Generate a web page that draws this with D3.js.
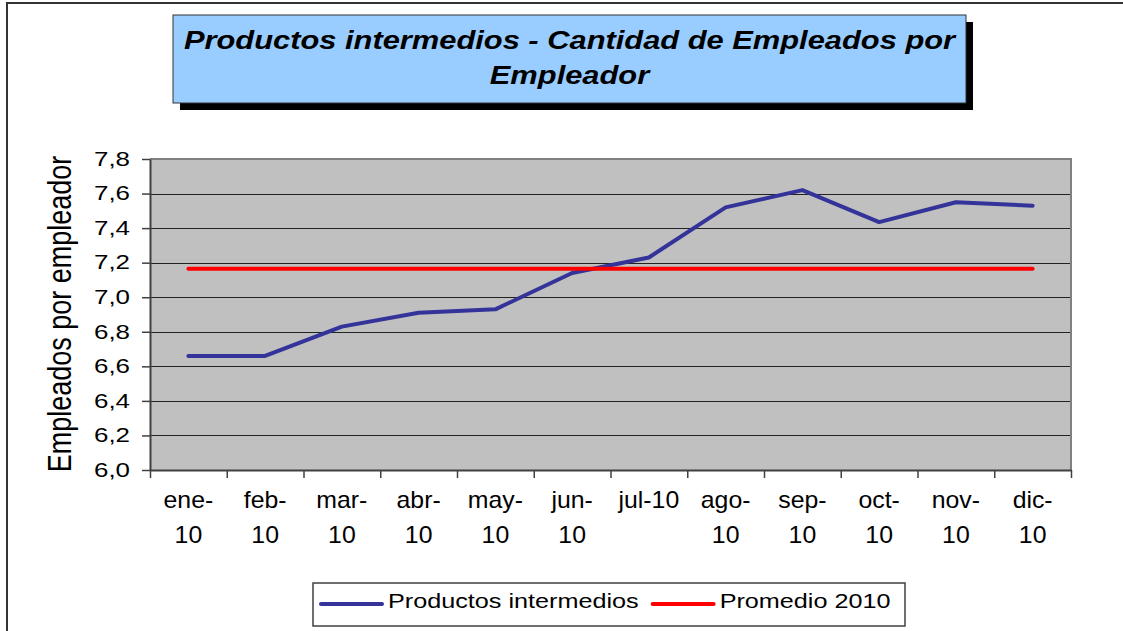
<!DOCTYPE html>
<html>
<head>
<meta charset="utf-8">
<script src="https://cdn.jsdelivr.net/npm/d3@7"></script>
<style>
  body { margin: 0; background: #fff; }
  svg { display: block; font-family: "Liberation Sans", Arial, sans-serif; }
</style>
</head>
<body>
<div id="chart"></div>
<script>
// data
var months = ["ene-10", "feb-10", "mar-10", "abr-10", "may-10", "jun-10",
              "jul-10", "ago-10", "sep-10", "oct-10", "nov-10", "dic-10"];
var xLabels = [["ene-", "10"], ["feb-", "10"], ["mar-", "10"], ["abr-", "10"],
               ["may-", "10"], ["jun-", "10"], ["jul-10"], ["ago-", "10"],
               ["sep-", "10"], ["oct-", "10"], ["nov-", "10"], ["dic-", "10"]];
var productos = [6.66, 6.66, 6.83, 6.91, 6.93, 7.14, 7.23, 7.52, 7.62, 7.435, 7.55, 7.53];
var promedio = [7.165, 7.165, 7.165, 7.165, 7.165, 7.165, 7.165, 7.165, 7.165, 7.165, 7.165, 7.165];
var yTicks = [6.0, 6.2, 6.4, 6.6, 6.8, 7.0, 7.2, 7.4, 7.6, 7.8];
var titleLines = ["Productos intermedios - Cantidad de Empleados por", "Empleador"];
var yTitle = "Empleados por empleador";
var legendNames = ["Productos intermedios", "Promedio 2010"];
var colors = ["#333399", "#ff0000"];

var width = 1123, height = 631;
var plot = {left: 150, top: 159, right: 1071, bottom: 470};

var svg = d3.select("#chart").append("svg")
    .attr("width", width)
    .attr("height", height);

// outer frame
svg.append("rect")
    .attr("x", 7).attr("y", 3)
    .attr("width", 1140).attr("height", 660)
    .attr("fill", "#fff")
    .attr("stroke", "#333").attr("stroke-width", 2);

// title box with shadow
svg.append("rect")
    .attr("x", 180).attr("y", 22).attr("width", 793).attr("height", 88)
    .attr("fill", "#000");
svg.append("rect")
    .attr("x", 173).attr("y", 15).attr("width", 793).attr("height", 88)
    .attr("fill", "#99ccff")
    .attr("stroke", "#333").attr("stroke-width", 1);

titleLines.forEach(function(t, i) {
    svg.append("g")
        .attr("transform", "translate(569.5," + (49 + i * 35) + ") scale(1.187,1)")
      .append("text")
        .attr("text-anchor", "middle")
        .attr("font-size", 26)
        .attr("font-weight", "bold")
        .attr("font-style", "italic")
        .attr("fill", "#000")
        .text(t);
});

var x = d3.scaleBand().domain(months).range([plot.left, plot.right]);
var xc = function(m) { return x(m) + x.bandwidth() / 2; };
var y = d3.scaleLinear().domain([6, 7.8]).range([plot.bottom, plot.top]);

// plot area
svg.append("rect")
    .attr("x", plot.left).attr("y", plot.top)
    .attr("width", plot.right - plot.left).attr("height", plot.bottom - plot.top)
    .attr("fill", "#c0c0c0");

// gridlines
svg.append("g").selectAll("line")
    .data(yTicks.slice(1, -1))
    .enter().append("line")
    .attr("x1", plot.left).attr("x2", plot.right)
    .attr("y1", function(d) { return Math.round(y(d)) + 0.5; })
    .attr("y2", function(d) { return Math.round(y(d)) + 0.5; })
    .attr("stroke", "#222")
    .attr("stroke-width", 1);

// top and right border
svg.append("path")
    .attr("d", "M" + plot.left + "," + plot.top + "H" + plot.right + "V" + plot.bottom)
    .attr("fill", "none")
    .attr("stroke", "#808080")
    .attr("stroke-width", 2);

// y axis
var yAxis = svg.append("g")
    .attr("transform", "translate(" + plot.left + ",0)")
    .call(d3.axisLeft(y)
        .tickValues(yTicks)
        .tickSize(8)
        .tickSizeOuter(0)
        .tickFormat(function(d) { return d.toFixed(1).replace(".", ","); }));
yAxis.attr("font-family", null).attr("font-size", 19.5);
yAxis.select(".domain").attr("stroke", "#404040").attr("stroke-width", 2);
yAxis.selectAll(".tick line").attr("stroke", "#404040").attr("stroke-width", 1.5);
yAxis.selectAll(".tick text")
    .attr("fill", "#000")
    .attr("x", -20 / 1.33)
    .attr("transform", "scale(1.33,1)");

// x axis, ticks on category boundaries
var xEdges = d3.scaleLinear().domain([0, months.length]).range([plot.left, plot.right]);
var xAxis = svg.append("g")
    .attr("transform", "translate(0," + plot.bottom + ")")
    .call(d3.axisBottom(xEdges)
        .ticks(months.length)
        .tickSize(8)
        .tickSizeOuter(0)
        .tickFormat(""));
xAxis.select(".domain").attr("stroke", "#404040").attr("stroke-width", 2);
xAxis.selectAll(".tick line").attr("stroke", "#404040").attr("stroke-width", 1.5);

// category labels
months.forEach(function(m, i) {
    var t = svg.append("g")
        .attr("transform", "translate(" + xc(m) + ",0) scale(1.08,1)")
      .append("text")
        .attr("text-anchor", "middle")
        .attr("font-size", 23)
        .attr("fill", "#000");
    xLabels[i].forEach(function(s, j) {
        t.append("tspan").attr("x", 0).attr("y", 508 + j * 35).text(s);
    });
});

// y axis title
svg.append("g")
    .attr("transform", "translate(60,314) scale(1.2,1) rotate(-90)")
  .append("text")
    .attr("text-anchor", "middle")
    .attr("dy", "0.35em")
    .attr("font-size", 27)
    .attr("fill", "#000")
    .text(yTitle);

// series
var line = d3.line()
    .x(function(d, i) { return xc(months[i]); })
    .y(function(d) { return y(d); });

[productos, promedio].forEach(function(s, i) {
    svg.append("path")
        .datum(s)
        .attr("fill", "none")
        .attr("stroke", colors[i])
        .attr("stroke-width", 4)
        .attr("stroke-linejoin", "round")
        .attr("stroke-linecap", "round")
        .attr("d", line);
});

// legend
svg.append("rect")
    .attr("x", 313).attr("y", 583).attr("width", 592).attr("height", 43)
    .attr("fill", "#fff")
    .attr("stroke", "#404040").attr("stroke-width", 1.5);

var lx = 321;
legendNames.forEach(function(name, i) {
    svg.append("line")
        .attr("x1", lx).attr("x2", lx + 61)
        .attr("y1", 604).attr("y2", 604)
        .attr("stroke", colors[i])
        .attr("stroke-width", 4)
        .attr("stroke-linecap", "round");
    var t = svg.append("g")
        .attr("transform", "translate(" + (lx + 67) + ",608) scale(1.2,1)")
      .append("text")
        .attr("font-size", 21)
        .attr("fill", "#000")
        .text(name);
    lx += 67 + t.node().getComputedTextLength() * 1.2 + 14;
});
</script>
</body>
</html>
